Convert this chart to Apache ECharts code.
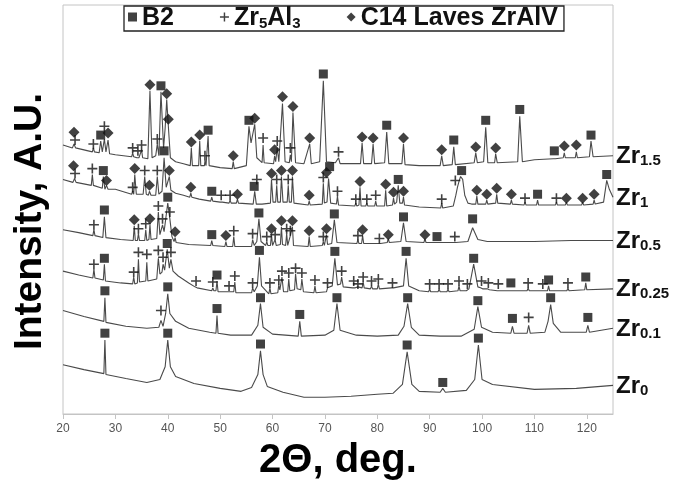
<!DOCTYPE html>
<html>
<head>
<meta charset="utf-8">
<title>XRD patterns</title>
<script src="https://cdn.jsdelivr.net/npm/echarts@6/dist/echarts.min.js"></script>
<style>
  html, body { margin: 0; padding: 0; background: #fff; }
  #xrd_chart { width: 683px; height: 486px; }
</style>
</head>
<body>
<div id="xrd_chart"></div>
<script>
// Axis range (2 theta, deg.)
var xMin = 20, xMax = 125, xStep = 10;

// Diffraction patterns, [2 theta, intensity a.u. incl. stack offset]
var zr15 = [[20,273],[21.8,270],[22.1,274],[22.4,270],[24,268],[25.6,266],[25.8,270],[26.0,266],[26.9,265],[27.2,277],[27.5,266],[27.9,279],[28.2,266],[28.6,278],[28.9,264],[30,263],[33.1,261],[33.3,265],[33.5,261],[34.1,260],[34.3,262],[34.5,260],[34.8,262],[35.0,268],[35.2,260],[36.2,259],[36.6,328],[37.0,260],[37.7,262],[38.0,274],[38.3,262],[38.7,327],[39.2,270],[39.5,290],[39.8,319],[40.1,293],[40.5,260],[41.5,256],[43,254],[44.3,252],[44.5,270],[44.7,252],[45.9,252],[46.1,277],[46.3,252],[47.0,252],[47.1,257],[47.3,252],[47.5,253],[47.7,282],[47.9,252],[50,250],[52.3,249],[52.5,256],[52.7,249],[55.0,252],[55.5,292],[55.9,275],[56.6,294],[57.0,260],[58.0,255],[58.2,273],[58.4,255],[60.2,254],[60.4,262],[60.6,256],[60.9,270],[61.2,256],[61.9,315],[62.4,256],[63.2,255],[63.4,263],[63.6,256],[63.9,306],[64.4,255],[66,254],[67.1,274],[67.4,254],[69,256],[69.7,338],[70.3,256],[72,255],[72.6,260],[72.9,254],[76.8,254],[77.1,275],[77.4,254],[78.9,254],[79.2,274],[79.5,254],[81.4,255],[81.8,286],[82.2,254],[84.7,254],[85,274],[85.3,253],[88,252],[92.0,252],[92.3,262],[92.6,252],[94.3,253],[94.6,271],[94.9,253],[98.5,255],[98.8,265],[99.1,255],[100.3,256],[100.7,291],[101.1,255],[102.4,255],[102.6,264],[102.9,255],[106.8,256],[107.2,302],[107.7,256],[110,258],[113.6,259],[113.8,261],[114.0,259],[115.5,260],[115.7,265],[115.9,260],[117.8,260],[118.0,266],[118.2,260],[120.5,261],[120.8,277],[121.2,261],[125,262]];

var zr1 = [[20,238],[21.9,235],[22.2,239],[22.5,235],[25.4,232],[25.6,243],[25.8,232],[27.5,229],[27.7,241],[28.0,228],[28.3,232],[28.6,228],[30,228],[33.1,223],[33.3,226],[33.5,223],[33.7,243],[34.0,223],[35.3,223],[35.6,241],[35.9,223],[36.3,222],[36.5,226],[36.8,222],[37.7,222],[38.0,241],[38.3,223],[38.9,226],[39.3,260],[39.7,230],[40.0,228],[40.3,241],[40.6,227],[41.5,224],[43,222],[44.2,220],[44.4,224],[44.6,220],[46,218],[48.2,216],[48.4,220],[48.6,216],[50.0,215],[50.2,217],[50.4,215],[51.7,214],[51.9,217],[52.1,214],[53.1,214],[53.3,218],[53.5,214],[56.3,213],[56.6,226],[56.9,213],[58,213],[59.6,214],[59.8,238],[60.1,215],[60.6,215],[60.8,232],[61.0,215],[61.5,215],[61.7,241],[62.0,215],[62.8,215],[63.0,232],[63.2,215],[63.6,215],[63.8,241],[64.1,214],[66.8,212],[67,216],[67.2,212],[69.5,213],[69.7,234],[69.9,214],[70.4,215],[70.7,239],[71.1,214],[72.2,213],[72.4,221],[72.6,212],[75.7,211],[75.9,214],[76.1,211],[76.5,212],[76.7,230],[76.9,211],[77.8,211],[78,214],[78.2,211],[79.5,211],[79.7,216],[79.9,211],[81.4,211],[81.6,227],[81.8,211],[82.9,212],[83.1,219],[83.3,213],[83.7,215],[84.0,232],[84.3,214],[84.8,214],[85,220],[85.2,212],[88,210],[92.1,209],[92.3,214],[92.5,209],[94.5,211],[95.0,222],[95.3,230],[95.6,236],[95.9,241],[96.3,238],[96.7,222],[97.3,214],[98,213],[98.8,213],[99,221],[99.2,213],[100.7,213],[100.9,217],[101.1,213],[102.6,214],[102.8,223],[103,214],[105.4,213],[105.6,217],[105.8,213],[108,212],[108.2,215],[108.4,212],[110.4,212],[110.6,217],[110.8,212],[114,212],[114.2,215],[114.4,212],[115.9,212],[116.1,215],[116.3,212],[119,212],[119.2,215],[119.4,212],[121.2,213],[121.4,217],[121.6,213],[123.2,215],[123.8,237],[124.3,228],[125,220]];

var zr05 = [[20,187],[23,184],[25.7,181],[25.9,187],[26.1,181],[27.6,179],[27.9,200],[28.2,179],[31,177],[33.4,176],[33.6,191],[33.8,176],[34.2,176],[34.4,183],[34.6,176],[35.6,176],[35.8,187],[36.0,176],[36.4,177],[36.6,192],[36.8,177],[37.9,178],[38.2,205],[38.5,182],[38.8,184],[39.0,192],[39.3,185],[40.0,214],[40.4,198],[40.8,180],[41.2,175],[41.4,179],[41.6,174],[44,172],[48.2,171],[48.4,176],[48.6,171],[50.9,170],[51.1,175],[51.3,170],[52.4,170],[52.6,180],[52.8,170],[56.0,170],[56.2,177],[56.5,171],[57.0,175],[57.4,198],[57.8,175],[58.7,171],[58.9,175],[59.1,171],[59.6,171],[59.8,182],[60.0,171],[60.3,171],[60.5,177],[60.7,171],[61.5,172],[61.7,190],[61.9,172],[62.5,171],[62.7,183],[62.9,171],[63.2,171],[63.4,181],[63.6,179],[63.8,190],[64.0,171],[66.8,170],[67,180],[67.2,170],[69.5,171],[69.7,175],[69.9,171],[70.1,171],[70.3,182],[70.5,172],[71.3,173],[71.8,197],[72.3,174],[76.1,173],[76.3,177],[76.5,173],[77.0,173],[77.2,181],[77.4,173],[80.2,173],[80.4,175],[80.6,173],[81.9,174],[82.1,178],[82.3,174],[84.5,175],[85.0,194],[85.5,175],[88.9,174],[89.1,178],[89.3,174],[91.2,174],[91.4,176],[91.6,174],[94.6,174],[94.8,176],[95.0,174],[97.3,175],[98.2,189],[99.2,177],[101,175],[110,175],[117,176],[125,176]];

var zr025 = [[20,145],[23,141],[25.7,138],[25.9,147],[26.1,138],[27.7,136],[27.9,152],[28.1,135],[31,133],[33.3,132],[33.5,139],[33.7,132],[34.2,133],[34.4,157],[34.6,134],[35.8,135],[36.0,154],[36.2,135],[37.9,137],[38.2,158],[38.5,142],[38.9,144],[39.1,152],[39.4,146],[39.9,167],[40.3,148],[40.6,157],[41.0,145],[42,140],[44,133],[45.2,129],[45.4,130],[45.6,128],[48.4,125],[48.6,128],[48.8,125],[49.2,125],[49.4,135],[49.6,124],[51.5,124],[51.7,126],[51.9,124],[52.6,124],[52.8,134],[53.0,123],[56.0,123],[56.2,128],[56.5,124],[57.1,130],[57.5,159],[57.9,130],[59.3,122],[59.5,128],[59.7,122],[61.0,123],[61.2,131],[61.4,126],[61.8,139],[62.1,124],[62.9,124],[63.1,137],[63.3,125],[64.2,126],[64.4,142],[64.7,127],[65.4,126],[65.6,137],[65.9,124],[67.9,123],[68.1,130],[68.3,123],[70.3,124],[70.5,128],[70.7,126],[71.4,130],[71.9,158],[72.4,131],[73.0,132],[73.2,139],[73.5,129],[75.3,128],[75.5,130],[75.8,128],[76.1,127],[76.3,129],[76.6,127],[77.1,128],[77.3,134],[77.5,128],[78.7,127],[78.9,130],[79.1,127],[80.0,127],[80.2,132],[80.4,127],[82.7,128],[82.9,130],[83.1,128],[85.0,130],[85.5,158],[86.0,130],[88,125],[89.8,124],[90.0,127],[90.2,124],[91.6,124],[91.8,127],[92.0,124],[93.3,124],[93.5,127],[93.7,124],[95.4,125],[95.6,130],[95.8,125],[97.0,125],[97.2,127],[97.5,127],[98.4,152],[99.2,129],[99.7,128],[99.9,130],[100.1,127],[101.0,127],[101.2,129],[101.4,126],[102.9,125],[103.1,127],[103.3,125],[105.3,125],[105.5,127],[105.7,125],[108.6,125],[108.8,128],[109.0,125],[111.4,125],[111.6,127],[111.8,125],[112.5,125],[112.7,130],[112.9,125],[116.2,125],[116.4,128],[116.6,125],[119.6,126],[119.8,133],[120.0,126],[125,127]];

var zr01 = [[20,105],[24,99],[27.8,94],[28,118],[28.2,93],[32,89],[36,87],[38.3,88],[38.7,95],[39.1,89],[39.6,102],[40,122],[40.4,102],[41.5,94],[44,87],[48,83],[49.2,82],[49.4,100],[49.6,82],[52,80],[56,80],[57.2,90],[57.7,112],[58.2,88],[60,81],[64.9,79],[65.2,94],[65.5,79],[70,80],[71.7,85],[72.3,112],[72.9,85],[76,80],[80,79],[84,80],[85.1,89],[85.8,112],[86.5,88],[88,80],[92,79],[96,79],[98.5,86],[99.2,109],[99.9,88],[102,83],[105.5,82],[105.8,89],[106.1,82],[108.6,82],[108.9,90],[109.2,82],[112,83],[112.6,94],[113.1,111],[113.6,92],[115,83],[119.9,83],[120.2,90],[120.5,83],[125,87]];

var zr0 = [[20,50],[24,45],[27.8,41],[28.0,75],[28.2,40],[32,36],[36,32],[38.5,35],[39.5,48],[40.0,75],[40.5,48],[41.5,38],[45,31],[50,26],[54,23],[56,27],[57.2,40],[57.7,64],[58.2,40],[59,28],[62,22],[66,17],[70,17],[75,18],[80,20],[83,21],[84.8,30],[85.7,63],[86.6,30],[88,23],[92,22],[92.5,26],[93,22],[97,24],[98.6,35],[99.3,70],[100.0,35],[102,30],[110,25],[118,26],[125,29]];

// Phase identification marks, [2 theta, intensity]
var b2Marks = [
  [27.2,283],[38.7,333],[47.7,288],[55.5,298],[69.7,345],[81.8,293],[94.6,278],[100.7,298],[107.2,309],[113.8,267],[120.8,283],
  [27.7,247],[39.3,267],[48.4,226],[56.5,231],[70.9,251],[84.0,238],[96.1,247],[110.6,223],[123.8,243],
  [27.9,207],[40.0,220],[48.4,182],[57.4,204],[71.8,203],[85.0,200],[91.4,180],[98.2,198],
  [27.9,158],[39.9,173],[49.4,141],[57.5,166],[71.9,165],[85.5,165],[98.4,158],[105.5,133],[112.7,136],[119.8,139],
  [28,125],[40,129],[49.4,107],[57.7,118],[65.2,101],[72.3,118],[85.8,118],[99.2,115],[105.8,97],[113.1,118],[120.2,98],
  [28,82],[40,82],[57.7,71],[85.7,70],[92.5,32],[99.3,77]
];

var zr5al3Marks = [
  [22.3,278],[25.8,274],[27.9,292],[33.3,270],[34.3,267],[35.0,273],[38.0,279],[47.1,262],[58.2,280],[60.9,277],[63.4,270],[72.6,266],
  [22.3,244],[25.6,249],[33.3,230],[35.6,247],[38.0,247],[50.2,222],[51.9,222],[57.0,238],[60.8,238],[63.0,238],[69.7,240],[72.4,226],[75.9,218],[78.0,218],[79.7,222],[92.3,218],[94.9,237],[108.2,219],[114.2,219],
  [25.9,192],[34.4,188],[35.8,193],[38.2,211],[39.0,198],[40.4,205],[52.6,186],[56.2,183],[58.9,180],[60.5,182],[62.7,188],[63.4,186],[69.7,180],[76.3,181],[80.4,178],[94.8,180],
  [25.9,152],[33.5,144],[34.4,164],[36.0,162],[38.2,166],[39.1,159],[40.6,164],[45.4,135],[48.6,134],[51.7,130],[52.8,140],[56.2,133],[59.5,133],[61.2,136],[61.8,145],[63.1,143],[64.4,148],[65.6,143],[68.1,136],[70.5,133],[73.2,145],[75.5,135],[76.3,132],[77.3,139],[78.9,135],[80.2,137],[82.9,133],[90.0,132],[91.8,132],[93.5,132],[95.6,135],[97.2,132],[99.9,135],[101.2,133],[103.1,132],[108.8,133],[111.6,132],[116.4,133],
  [38.7,105],[108.9,98]
];

var c14Marks = [
  [22.1,286],[28.6,285],[36.6,334],[39.8,325],[40.1,299],[44.5,276],[46.1,283],[52.5,262],[56.6,300],[60.4,268],[61.9,322],[63.9,312],[67.1,280],[77.1,281],[79.2,280],[85,280],[92.3,268],[98.8,271],[102.6,270],[115.7,272],[118,273],
  [22.0,252],[28.3,237],[33.7,249],[36.5,232],[40.3,247],[44.4,230],[53.3,223],[59.8,244],[61.7,247],[63.8,247],[67.0,222],[70.3,245],[76.7,236],[81.6,233],[83.1,225],[85.0,226],[99.0,227],[100.9,223],[102.8,229],[105.6,223],[116.1,219],[119.2,219],[121.4,223],
  [33.6,197],[36.6,198],[41.4,185],[51.1,181],[59.8,188],[61.7,196],[63.8,196],[67,186],[70.3,188],[77.2,187],[82.1,182],[89.1,182]
];

// Sample names (base, subscript)
var sampleNames = [['Zr', '1.5'], ['Zr', '1'], ['Zr', '0.5'], ['Zr', '0.25'], ['Zr', '0.1'], ['Zr', '0']];
var sampleData = [zr15, zr1, zr05, zr025, zr01, zr0];

var phaseNames = ['B2', 'Zr5Al3', 'C14 Laves ZrAlV'];

var fontMain = "'Liberation Sans', Arial, sans-serif";
var plusPath = 'path://M4.2,0H5.8V10H4.2Z M0,4.2H10V5.8H0Z';

var xrd_element = document.getElementById('xrd_chart');
var xrd_chart = echarts.init(xrd_element);

// Line series, one per sample, with its name at the right end
var series = sampleData.map(function(d, i) {
    var nm = sampleNames[i];
    return {
        name: nm[0] + nm[1],
        type: 'line',
        data: d,
        showSymbol: false,
        symbol: 'none',
        silent: true,
        lineStyle: { color: '#4a4a4a', width: 1.1 },
        endLabel: {
            show: true,
            distance: 3,
            formatter: function() { return '{n|' + nm[0] + '}{s|' + nm[1] + '}'; },
            rich: {
                n: { fontSize: 24, fontWeight: 'bold', fontFamily: fontMain, color: '#111', verticalAlign: 'bottom', lineHeight: 26 },
                s: { fontSize: 15, fontWeight: 'bold', fontFamily: fontMain, color: '#111', verticalAlign: 'bottom', lineHeight: 22 }
            }
        }
    };
});

// Marker series
series.push({
    name: phaseNames[0], type: 'scatter', symbol: 'rect', symbolSize: 9,
    itemStyle: { color: '#111' }, z: 5, data: b2Marks
});
series.push({
    name: phaseNames[1], type: 'scatter', symbol: plusPath, symbolSize: 10,
    itemStyle: { color: '#111' }, z: 5, data: zr5al3Marks
});
series.push({
    name: phaseNames[2], type: 'scatter', symbol: 'diamond', symbolSize: 11,
    itemStyle: { color: '#111' }, z: 5, data: c14Marks
});

xrd_chart.setOption({
    animation: false,
    textStyle: { fontFamily: fontMain },

    grid: {
        left: 63, right: 70, top: 5, bottom: 66,
        show: true,
        borderColor: '#c4c4c4',
        borderWidth: 1
    },

    legend: {
        data: phaseNames,
        left: 124, top: 6,
        itemGap: 46,
        itemWidth: 9, itemHeight: 9,
        padding: [0, 6, 0, 4],
        borderColor: '#222',
        borderWidth: 1.3,
        selectedMode: false,
        formatter: function(name) {
            if (name === 'Zr5Al3') return '{n|Zr}{s|5}{n|Al}{s|3}';
            return '{n|' + name + '}';
        },
        textStyle: {
            color: '#111',
            rich: {
                n: { fontSize: 25, fontWeight: 'bold', fontFamily: fontMain, color: '#111', verticalAlign: 'bottom', lineHeight: 28 },
                s: { fontSize: 15, fontWeight: 'bold', fontFamily: fontMain, color: '#111', verticalAlign: 'bottom', lineHeight: 23 }
            }
        }
    },

    xAxis: {
        type: 'value',
        min: xMin, max: xMax, interval: xStep,
        name: '2\u0398, deg.',
        nameLocation: 'middle',
        nameGap: 27,
        nameTextStyle: { fontSize: 40, fontWeight: 'bold', color: '#000', fontFamily: fontMain },
        axisLine: { lineStyle: { color: '#c4c4c4' } },
        axisTick: { show: true, length: 5, lineStyle: { color: '#c4c4c4' } },
        axisLabel: { color: '#555', fontSize: 12, margin: 9, showMaxLabel: false },
        splitLine: { show: false }
    },

    yAxis: {
        type: 'value',
        min: 0, max: 415,
        name: 'Intensity, A.U.',
        nameLocation: 'middle',
        nameRotate: 90,
        nameGap: 13,
        nameTextStyle: { fontSize: 39, fontWeight: 'bold', color: '#000', fontFamily: fontMain, padding: [0, 24, 0, 0] },
        axisLine: { show: false },
        axisTick: { show: false },
        axisLabel: { show: false },
        splitLine: { show: false }
    },

    series: series
});
</script>
</body>
</html>
